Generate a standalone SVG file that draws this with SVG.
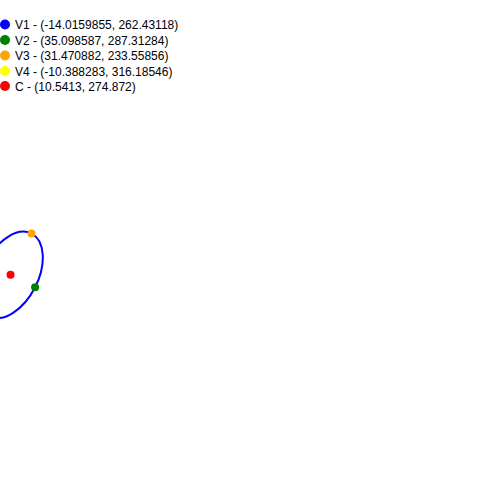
<svg xmlns="http://www.w3.org/2000/svg" width="500" height="500" viewBox="0 0 500 500">
<style>
.t{font-family:"Liberation Sans",Arial,sans-serif;font-size:12px;fill:#000}
</style>
<rect width="500" height="500" fill="#fff"/>
<g id="legend">
<circle cx="5" cy="24.5" r="5" fill="blue"/><text class="t" x="15" y="29">V1 - (-14.0159855, 262.43118)</text>
<circle cx="5" cy="40" r="5" fill="green"/><text class="t" x="15" y="44.5">V2 - (35.098587, 287.31284)</text>
<circle cx="5" cy="55.5" r="5" fill="orange"/><text class="t" x="15" y="60">V3 - (31.470882, 233.55856)</text>
<circle cx="5" cy="71" r="5" fill="yellow"/><text class="t" x="15" y="75.5">V4 - (-10.388283, 316.18546)</text>
<circle cx="5" cy="86" r="5" fill="red"/><text class="t" x="15" y="90.5">C - (10.5413, 274.872)</text>
</g>
<g id="ellipse">
<ellipse cx="10.5413" cy="274.872" rx="27.53" ry="46.31" transform="rotate(26.86 10.5413 274.872)" fill="none" stroke="blue" stroke-width="2"/>
</g>
<g id="points">
<circle id="V1" cx="-14.0159855" cy="262.43118" r="4" fill="blue"/>
<circle id="V2" cx="35.098587" cy="287.31284" r="4" fill="green"/>
<circle id="V3" cx="31.470882" cy="233.55856" r="4" fill="orange"/>
<circle id="V4" cx="-10.388283" cy="316.18546" r="4" fill="yellow"/>
<circle id="C" cx="10.5413" cy="274.872" r="4" fill="red"/>
</g>
</svg>
